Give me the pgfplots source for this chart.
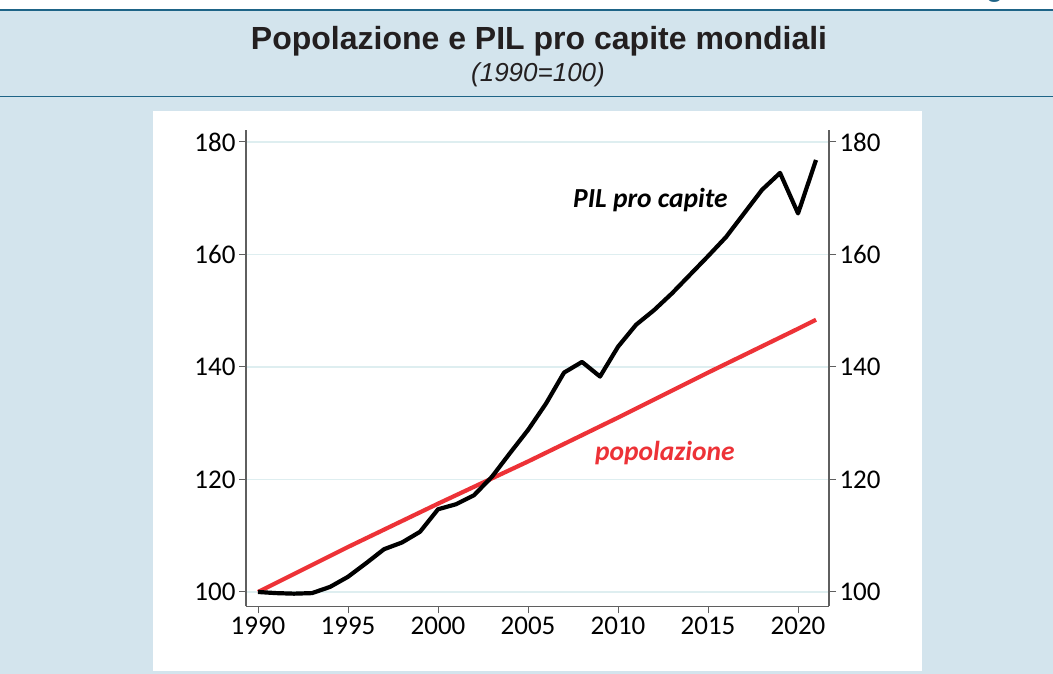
\documentclass[border=0pt]{standalone}
\usepackage{pgfplots}
\pgfplotsset{compat=1.18}
\usepackage{fontspec}
\setmainfont{Carlito}
\newfontfamily\headfont{Liberation Sans}

\definecolor{bgblue}{RGB}{211,228,237}
\definecolor{lineblue}{RGB}{30,100,135}
\definecolor{gridc}{RGB}{222,238,240}
\definecolor{popred}{RGB}{237,50,55}
\definecolor{axgray}{RGB}{95,95,95}
\definecolor{titlec}{RGB}{35,31,32}

\begin{document}
\begin{tikzpicture}[x=1pt,y=1pt]
\useasboundingbox (0,0) rectangle (1053,674);
% page background and frame
\fill[white] (0,0) rectangle (1053,674);
\fill[bgblue] (0,0) rectangle (1053,664);
\draw[lineblue,line width=2.2pt] (0,664) -- (1053,664);
\draw[lineblue,line width=1.6pt] (0,577.5) -- (1053,577.5);
\fill[white] (153,3) rectangle (922,563);
\node[anchor=base west,text=lineblue,inner sep=0pt,font=\headfont\bfseries\fontsize{28}{30}\selectfont] at (961,677) {Figura};

% titles
\node[anchor=base,inner sep=0pt,text=titlec,font=\headfont\bfseries\fontsize{32}{36}\selectfont] at (539,624) {Popolazione e PIL pro capite mondiali};
\node[anchor=base,inner sep=0pt,text=titlec,font=\headfont\itshape\fontsize{26}{30}\selectfont] at (538,592) {(1990=100)};

\begin{axis}[
  at={(246pt,67.5pt)}, anchor=south west,
  scale only axis, width=583pt, height=476.5pt,
  xmin=1989.333, xmax=2021.72, ymin=97.42, ymax=182.13,
  axis x line*=bottom, axis y line*=left,
  xtick={1990,1995,...,2020}, ytick={100,120,...,180},
  tick align=outside, major tick length=7pt,
  tick style={axgray,line width=1pt},
  axis line style={axgray,line width=1.2pt},
  ymajorgrids, grid style={gridc,line width=1.5pt},
  tick label style={font=\fontsize{27}{31}\selectfont},
  /pgf/number format/assume math mode=true,
  /pgf/number format/1000 sep={},
]
\addplot[popred,line width=4.2pt,line join=round] coordinates {
  (1990,100) (1995,108.0) (2000,115.7) (2005,123.2)
  (2010,131.0) (2015,139.0) (2020,146.8) (2021,148.4)
};
\addplot[black,line width=4.2pt,line join=round] coordinates {
  (1990,100) (1991,99.8) (1992,99.7) (1993,99.8) (1994,100.9)
  (1995,102.7) (1996,105.1) (1997,107.6) (1998,108.8) (1999,110.7)
  (2000,114.7) (2001,115.6) (2002,117.2) (2003,120.5) (2004,124.7)
  (2005,128.8) (2006,133.5) (2007,139.0) (2008,140.9) (2009,138.3)
  (2010,143.6) (2011,147.5) (2012,150.1) (2013,153.1) (2014,156.4)
  (2015,159.7) (2016,163.1) (2017,167.3) (2018,171.5) (2019,174.5)
  (2020,167.3) (2021,176.8)
};
\node[font=\bfseries\itshape\fontsize{27.5}{31}\selectfont] at (axis cs:2011.8,169.7) {PIL pro capite};
\node[text=popred,font=\bfseries\itshape\fontsize{27.5}{31}\selectfont] at (axis cs:2012.6,124.7) {popolazione};
\end{axis}

\begin{axis}[
  at={(246pt,67.5pt)}, anchor=south west,
  scale only axis, width=583pt, height=476.5pt,
  xmin=1989.333, xmax=2021.72, ymin=97.42, ymax=182.13,
  axis x line=none, axis y line*=right,
  ytick={100,120,...,180},
  tick align=outside, major tick length=7pt,
  tick style={axgray,line width=1pt},
  axis line style={axgray,line width=1.2pt},
  tick label style={font=\fontsize{27}{31}\selectfont},
  /pgf/number format/assume math mode=true,
  /pgf/number format/1000 sep={},
]
\end{axis}
\end{tikzpicture}
\end{document}
